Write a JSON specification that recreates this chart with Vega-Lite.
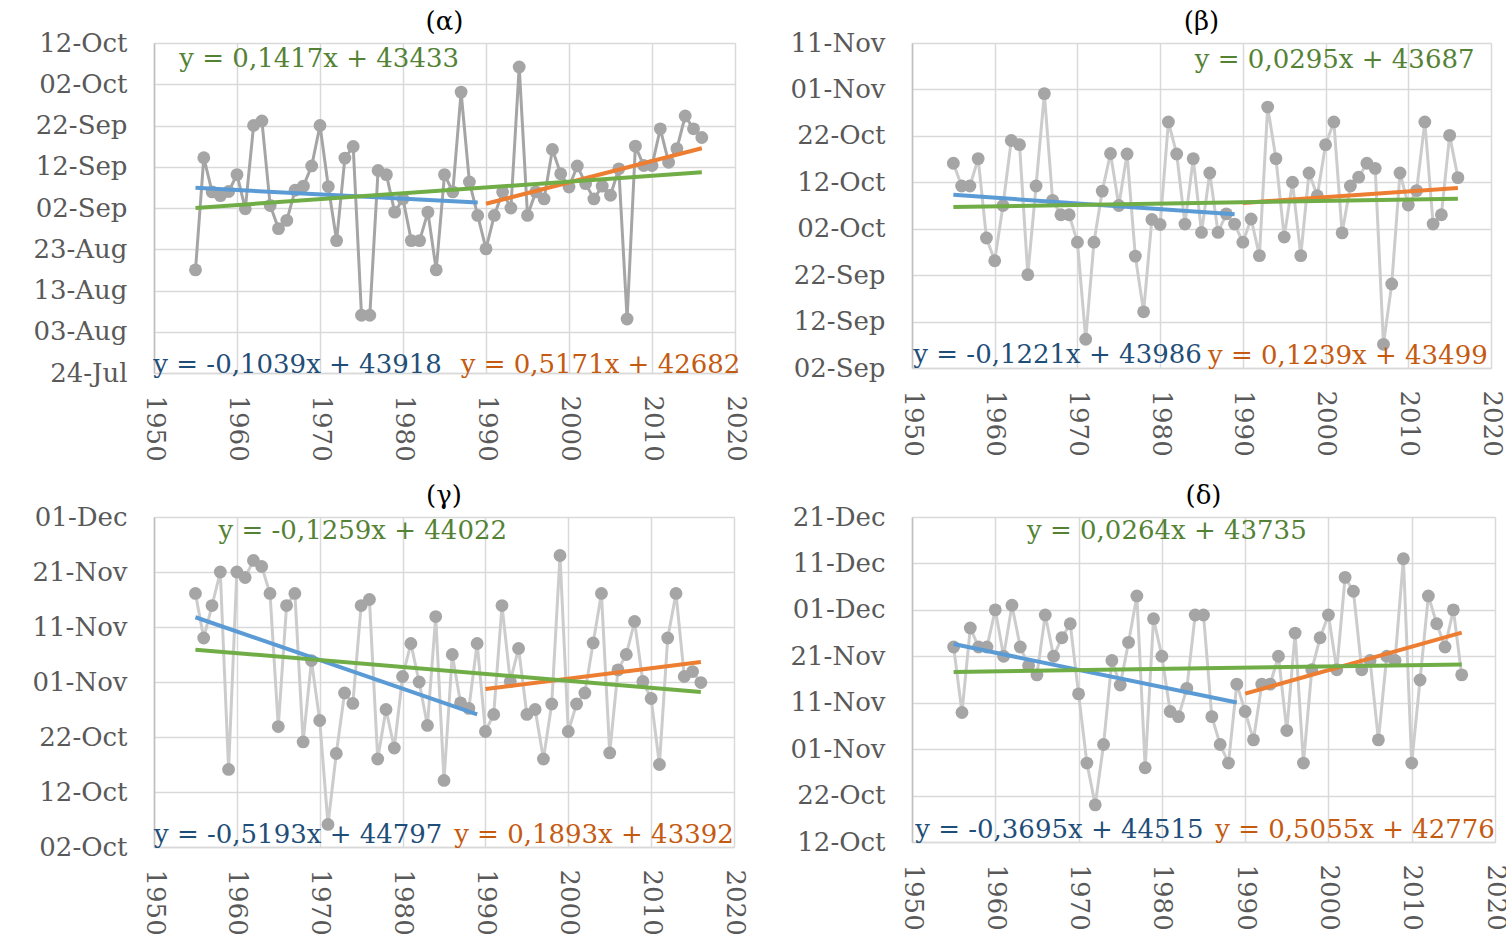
{
  "$schema": "https://vega.github.io/schema/vega-lite/v6.json",
  "background": "white",
  "padding": {"left": 32, "top": 9, "right": 5, "bottom": 5},
  "datasets": {
    "alpha": [
      {"year":1955,"date":43695.0},{"year":1956,"date":43722.2},{"year":1957,"date":43713.9},{"year":1958,"date":43713.0},{"year":1959,"date":43714.0},
      {"year":1960,"date":43718.1},{"year":1961,"date":43709.8},{"year":1962,"date":43730.0},{"year":1963,"date":43731.1},{"year":1964,"date":43710.6},
      {"year":1965,"date":43705.0},{"year":1966,"date":43707.0},{"year":1967,"date":43714.3},{"year":1968,"date":43715.3},{"year":1969,"date":43720.2},
      {"year":1970,"date":43730.0},{"year":1971,"date":43715.2},{"year":1972,"date":43702.1},{"year":1973,"date":43722.1},{"year":1974,"date":43724.9},
      {"year":1975,"date":43684.0},{"year":1976,"date":43684.0},{"year":1977,"date":43719.1},{"year":1978,"date":43718.1},{"year":1979,"date":43709.0},
      {"year":1980,"date":43712.2},{"year":1981,"date":43702.1},{"year":1982,"date":43702.1},{"year":1983,"date":43709.0},{"year":1984,"date":43695.0},
      {"year":1985,"date":43718.1},{"year":1986,"date":43713.9},{"year":1987,"date":43738.1},{"year":1988,"date":43716.3},{"year":1989,"date":43708.2},
      {"year":1990,"date":43700.1},{"year":1991,"date":43708.2},{"year":1992,"date":43713.9},{"year":1993,"date":43710.0},{"year":1994,"date":43744.2},
      {"year":1995,"date":43708.2},{"year":1996,"date":43713.9},{"year":1997,"date":43712.2},{"year":1998,"date":43724.2},{"year":1999,"date":43718.3},
      {"year":2000,"date":43715.1},{"year":2001,"date":43720.2},{"year":2002,"date":43715.9},{"year":2003,"date":43712.2},{"year":2004,"date":43715.3},
      {"year":2005,"date":43713.1},{"year":2006,"date":43719.5},{"year":2007,"date":43683.1},{"year":2008,"date":43725.0},{"year":2009,"date":43720.3},
      {"year":2010,"date":43720.3},{"year":2011,"date":43729.2},{"year":2012,"date":43721.1},{"year":2013,"date":43724.4},{"year":2014,"date":43732.3},
      {"year":2015,"date":43729.2},{"year":2016,"date":43727.1}
    ],
    "alpha_trend": [
      {"period":"1955–1989","year":1955,"date":43714.88},{"period":"1955–1989","year":1989,"date":43711.34},
      {"period":"1990–2016","year":1990,"date":43711.03},{"period":"1990–2016","year":2016,"date":43724.47},
      {"period":"1955–2016","year":1955,"date":43710.02},{"period":"1955–2016","year":2016,"date":43718.67}
    ],
    "beta": [
      {"year":1955,"date":43754.1},{"year":1956,"date":43749.2},{"year":1957,"date":43749.2},{"year":1958,"date":43755.1},{"year":1959,"date":43738.0},
      {"year":1960,"date":43733.1},{"year":1961,"date":43745.0},{"year":1962,"date":43759.0},{"year":1963,"date":43758.1},{"year":1964,"date":43730.1},
      {"year":1965,"date":43749.2},{"year":1966,"date":43769.1},{"year":1967,"date":43746.1},{"year":1968,"date":43743.0},{"year":1969,"date":43743.0},
      {"year":1970,"date":43737.1},{"year":1971,"date":43716.2},{"year":1972,"date":43737.1},{"year":1973,"date":43748.1},{"year":1974,"date":43756.2},
      {"year":1975,"date":43745.0},{"year":1976,"date":43756.1},{"year":1977,"date":43734.1},{"year":1978,"date":43722.1},{"year":1979,"date":43742.0},
      {"year":1980,"date":43740.9},{"year":1981,"date":43763.0},{"year":1982,"date":43756.1},{"year":1983,"date":43741.0},{"year":1984,"date":43755.1},
      {"year":1985,"date":43739.2},{"year":1986,"date":43752.0},{"year":1987,"date":43739.2},{"year":1988,"date":43743.2},{"year":1989,"date":43741.0},
      {"year":1990,"date":43737.1},{"year":1991,"date":43742.1},{"year":1992,"date":43734.2},{"year":1993,"date":43766.2},{"year":1994,"date":43755.1},
      {"year":1995,"date":43738.2},{"year":1996,"date":43750.0},{"year":1997,"date":43734.2},{"year":1998,"date":43752.0},{"year":1999,"date":43747.1},
      {"year":2000,"date":43758.1},{"year":2001,"date":43763.0},{"year":2002,"date":43739.1},{"year":2003,"date":43749.2},{"year":2004,"date":43751.1},
      {"year":2005,"date":43754.1},{"year":2006,"date":43753.0},{"year":2007,"date":43715.1},{"year":2008,"date":43728.1},{"year":2009,"date":43752.0},
      {"year":2010,"date":43745.1},{"year":2011,"date":43748.2},{"year":2012,"date":43763.0},{"year":2013,"date":43741.0},{"year":2014,"date":43743.0},
      {"year":2015,"date":43760.1},{"year":2016,"date":43751.0}
    ],
    "beta_trend": [
      {"period":"1955–1989","year":1955,"date":43747.29},{"period":"1955–1989","year":1989,"date":43743.14},
      {"period":"1990–2016","year":1990,"date":43745.56},{"period":"1990–2016","year":2016,"date":43748.78},
      {"period":"1955–2016","year":1955,"date":43744.67},{"period":"1955–2016","year":2016,"date":43746.47}
    ],
    "gamma": [
      {"year":1955,"date":43786.1},{"year":1956,"date":43778.0},{"year":1957,"date":43783.9},{"year":1958,"date":43790.0},{"year":1959,"date":43754.1},
      {"year":1960,"date":43790.0},{"year":1961,"date":43789.0},{"year":1962,"date":43792.1},{"year":1963,"date":43791.0},{"year":1964,"date":43786.1},
      {"year":1965,"date":43761.9},{"year":1966,"date":43783.9},{"year":1967,"date":43786.1},{"year":1968,"date":43759.1},{"year":1969,"date":43773.9},
      {"year":1970,"date":43763.0},{"year":1971,"date":43744.1},{"year":1972,"date":43757.0},{"year":1973,"date":43768.0},{"year":1974,"date":43766.1},
      {"year":1975,"date":43783.9},{"year":1976,"date":43785.0},{"year":1977,"date":43756.0},{"year":1978,"date":43765.0},{"year":1979,"date":43758.0},
      {"year":1980,"date":43771.0},{"year":1981,"date":43777.0},{"year":1982,"date":43770.0},{"year":1983,"date":43762.1},{"year":1984,"date":43781.9},
      {"year":1985,"date":43752.1},{"year":1986,"date":43775.0},{"year":1987,"date":43766.2},{"year":1988,"date":43765.2},{"year":1989,"date":43777.0},
      {"year":1990,"date":43761.0},{"year":1991,"date":43764.1},{"year":1992,"date":43783.9},{"year":1993,"date":43770.1},{"year":1994,"date":43776.1},
      {"year":1995,"date":43764.1},{"year":1996,"date":43765.0},{"year":1997,"date":43756.0},{"year":1998,"date":43766.0},{"year":1999,"date":43793.0},
      {"year":2000,"date":43761.0},{"year":2001,"date":43766.0},{"year":2002,"date":43768.0},{"year":2003,"date":43777.1},{"year":2004,"date":43786.1},
      {"year":2005,"date":43757.1},{"year":2006,"date":43772.2},{"year":2007,"date":43775.0},{"year":2008,"date":43781.0},{"year":2009,"date":43770.1},
      {"year":2010,"date":43767.0},{"year":2011,"date":43755.0},{"year":2012,"date":43778.0},{"year":2013,"date":43786.1},{"year":2014,"date":43771.0},
      {"year":2015,"date":43771.9},{"year":2016,"date":43769.9}
    ],
    "gamma_trend": [
      {"period":"1955–1989","year":1955,"date":43781.77},{"period":"1955–1989","year":1989,"date":43764.11},
      {"period":"1990–2016","year":1990,"date":43768.71},{"period":"1990–2016","year":2016,"date":43773.63},
      {"period":"1955–2016","year":1955,"date":43775.87},{"period":"1955–2016","year":2016,"date":43768.19}
    ],
    "delta": [
      {"year":1955,"date":43792.0},{"year":1956,"date":43777.9},{"year":1957,"date":43796.1},{"year":1958,"date":43792.0},{"year":1959,"date":43792.0},
      {"year":1960,"date":43800.0},{"year":1961,"date":43790.0},{"year":1962,"date":43801.0},{"year":1963,"date":43792.0},{"year":1964,"date":43788.0},
      {"year":1965,"date":43786.0},{"year":1966,"date":43798.9},{"year":1967,"date":43790.0},{"year":1968,"date":43794.0},{"year":1969,"date":43797.0},
      {"year":1970,"date":43781.9},{"year":1971,"date":43767.0},{"year":1972,"date":43758.0},{"year":1973,"date":43771.0},{"year":1974,"date":43789.1},
      {"year":1975,"date":43783.8},{"year":1976,"date":43793.0},{"year":1977,"date":43803.0},{"year":1978,"date":43766.0},{"year":1979,"date":43798.1},
      {"year":1980,"date":43790.0},{"year":1981,"date":43778.1},{"year":1982,"date":43777.0},{"year":1983,"date":43783.1},{"year":1984,"date":43798.9},
      {"year":1985,"date":43798.9},{"year":1986,"date":43777.0},{"year":1987,"date":43771.0},{"year":1988,"date":43767.0},{"year":1989,"date":43784.0},
      {"year":1990,"date":43778.1},{"year":1991,"date":43772.0},{"year":1992,"date":43784.0},{"year":1993,"date":43784.0},{"year":1994,"date":43790.0},
      {"year":1995,"date":43774.0},{"year":1996,"date":43795.0},{"year":1997,"date":43767.0},{"year":1998,"date":43787.1},{"year":1999,"date":43794.0},
      {"year":2000,"date":43798.9},{"year":2001,"date":43787.1},{"year":2002,"date":43807.0},{"year":2003,"date":43804.0},{"year":2004,"date":43787.1},
      {"year":2005,"date":43789.1},{"year":2006,"date":43772.0},{"year":2007,"date":43790.0},{"year":2008,"date":43789.1},{"year":2009,"date":43811.0},
      {"year":2010,"date":43767.0},{"year":2011,"date":43784.9},{"year":2012,"date":43803.0},{"year":2013,"date":43797.0},{"year":2014,"date":43792.0},
      {"year":2015,"date":43800.0},{"year":2016,"date":43786.0}
    ],
    "delta_trend": [
      {"period":"1955–1989","year":1955,"date":43792.63},{"period":"1955–1989","year":1989,"date":43780.06},
      {"period":"1990–2016","year":1990,"date":43781.95},{"period":"1990–2016","year":2016,"date":43795.09},
      {"period":"1955–2016","year":1955,"date":43786.61},{"period":"1955–2016","year":2016,"date":43788.22}
    ]
  },
  "columns": 2,
  "bounds": "flush",
  "spacing": {"row": 144, "column": 177},
  "concat": [
    {
      "title": "(α)",
      "width": 581,
      "height": 330,
      "resolve": {"scale": {"x": "shared", "y": "shared"}},
      "layer": [
        {"data": {"name": "alpha"}, "mark": {"type": "line", "color": "#a5a5a5", "strokeWidth": 3},
         "encoding": {
           "x": {"field": "year", "type": "quantitative", "scale": {"domain": [1950, 2020], "nice": false, "zero": false},
                 "axis": {"values": [1950, 1960, 1970, 1980, 1990, 2000, 2010, 2020], "format": "d", "labelAngle": 90}},
           "y": {"field": "date", "type": "quantitative", "scale": {"domain": [43670, 43750], "nice": false, "zero": false},
                 "axis": {"values": [43670, 43680, 43690, 43700, 43710, 43720, 43730, 43740, 43750],
                          "labelExpr": "timeFormat(datetime(1899, 11, 30 + datum.value), '%d-%b')"}}}},
        {"data": {"name": "alpha"}, "mark": {"type": "circle", "color": "#a5a5a5", "opacity": 1, "size": 165},
         "encoding": {"x": {"field": "year", "type": "quantitative"}, "y": {"field": "date", "type": "quantitative"}}},
        {"data": {"name": "alpha_trend"}, "mark": {"type": "line", "strokeWidth": 4},
         "encoding": {"x": {"field": "year", "type": "quantitative"}, "y": {"field": "date", "type": "quantitative"},
                      "color": {"field": "period", "type": "nominal", "legend": null,
                                "scale": {"domain": ["1955–1989", "1990–2016", "1955–2016"], "range": ["#5b9bd5", "#ed7d31", "#70ad47"]}}}},
        {"data": {"values": [{"label": "y = 0,1417x + 43433"}]}, "mark": {"type": "text", "color": "#548235"},
         "encoding": {"x": {"datum": 1969.9, "type": "quantitative"}, "y": {"datum": 43746.1, "type": "quantitative"}, "text": {"field": "label"}}},
        {"data": {"values": [{"label": "y = -0,1039x + 43918"}]}, "mark": {"type": "text", "color": "#1f4e79"},
         "encoding": {"x": {"datum": 1967.3, "type": "quantitative"}, "y": {"datum": 43671.9, "type": "quantitative"}, "text": {"field": "label"}}},
        {"data": {"values": [{"label": "y = 0,5171x + 42682"}]}, "mark": {"type": "text", "color": "#c55a11"},
         "encoding": {"x": {"datum": 2003.8, "type": "quantitative"}, "y": {"datum": 43671.9, "type": "quantitative"}, "text": {"field": "label"}}}
      ]
    },
    {
      "title": "(β)",
      "width": 579,
      "height": 325,
      "layer": [
        {"data": {"name": "beta"}, "mark": {"type": "line", "color": "#cccccc", "strokeWidth": 3},
         "encoding": {
           "x": {"field": "year", "type": "quantitative", "scale": {"domain": [1950, 2020], "nice": false, "zero": false},
                 "axis": {"values": [1950, 1960, 1970, 1980, 1990, 2000, 2010, 2020], "format": "d", "labelAngle": 90}},
           "y": {"field": "date", "type": "quantitative", "scale": {"domain": [43710, 43780], "nice": false, "zero": false},
                 "axis": {"values": [43710, 43720, 43730, 43740, 43750, 43760, 43770, 43780],
                          "labelExpr": "timeFormat(datetime(1899, 11, 30 + datum.value), '%d-%b')"}}}},
        {"data": {"name": "beta"}, "mark": {"type": "circle", "color": "#a5a5a5", "opacity": 1, "size": 165},
         "encoding": {"x": {"field": "year", "type": "quantitative"}, "y": {"field": "date", "type": "quantitative"}}},
        {"data": {"name": "beta_trend"}, "mark": {"type": "line", "strokeWidth": 4},
         "encoding": {"x": {"field": "year", "type": "quantitative"}, "y": {"field": "date", "type": "quantitative"},
                      "color": {"field": "period", "type": "nominal", "legend": null,
                                "scale": {"domain": ["1955–1989", "1990–2016", "1955–2016"], "range": ["#5b9bd5", "#ed7d31", "#70ad47"]}}}},
        {"data": {"values": [{"label": "y = 0,0295x + 43687"}]}, "mark": {"type": "text", "color": "#548235"},
         "encoding": {"x": {"datum": 2001.1, "type": "quantitative"}, "y": {"datum": 43776.3, "type": "quantitative"}, "text": {"field": "label"}}},
        {"data": {"values": [{"label": "y = -0,1221x + 43986"}]}, "mark": {"type": "text", "color": "#1f4e79"},
         "encoding": {"x": {"datum": 1967.6, "type": "quantitative"}, "y": {"datum": 43712.8, "type": "quantitative"}, "text": {"field": "label"}}},
        {"data": {"values": [{"label": "y = 0,1239x + 43499"}]}, "mark": {"type": "text", "color": "#c55a11"},
         "encoding": {"x": {"datum": 2002.7, "type": "quantitative"}, "y": {"datum": 43712.5, "type": "quantitative"}, "text": {"field": "label"}}}
      ]
    },
    {
      "title": "(γ)",
      "width": 580,
      "height": 330,
      "layer": [
        {"data": {"name": "gamma"}, "mark": {"type": "line", "color": "#cccccc", "strokeWidth": 3},
         "encoding": {
           "x": {"field": "year", "type": "quantitative", "scale": {"domain": [1950, 2020], "nice": false, "zero": false},
                 "axis": {"values": [1950, 1960, 1970, 1980, 1990, 2000, 2010, 2020], "format": "d", "labelAngle": 90}},
           "y": {"field": "date", "type": "quantitative", "scale": {"domain": [43740, 43800], "nice": false, "zero": false},
                 "axis": {"values": [43740, 43750, 43760, 43770, 43780, 43790, 43800],
                          "labelExpr": "timeFormat(datetime(1899, 11, 30 + datum.value), '%d-%b')"}}}},
        {"data": {"name": "gamma"}, "mark": {"type": "circle", "color": "#a5a5a5", "opacity": 1, "size": 165},
         "encoding": {"x": {"field": "year", "type": "quantitative"}, "y": {"field": "date", "type": "quantitative"}}},
        {"data": {"name": "gamma_trend"}, "mark": {"type": "line", "strokeWidth": 4},
         "encoding": {"x": {"field": "year", "type": "quantitative"}, "y": {"field": "date", "type": "quantitative"},
                      "color": {"field": "period", "type": "nominal", "legend": null,
                                "scale": {"domain": ["1955–1989", "1990–2016", "1955–2016"], "range": ["#5b9bd5", "#ed7d31", "#70ad47"]}}}},
        {"data": {"values": [{"label": "y = -0,1259x + 44022"}]}, "mark": {"type": "text", "color": "#548235"},
         "encoding": {"x": {"datum": 1975.2, "type": "quantitative"}, "y": {"datum": 43797.5, "type": "quantitative"}, "text": {"field": "label"}}},
        {"data": {"values": [{"label": "y = -0,5193x + 44797"}]}, "mark": {"type": "text", "color": "#1f4e79"},
         "encoding": {"x": {"datum": 1967.4, "type": "quantitative"}, "y": {"datum": 43742.2, "type": "quantitative"}, "text": {"field": "label"}}},
        {"data": {"values": [{"label": "y = 0,1893x + 43392"}]}, "mark": {"type": "text", "color": "#c55a11"},
         "encoding": {"x": {"datum": 2003.1, "type": "quantitative"}, "y": {"datum": 43742.2, "type": "quantitative"}, "text": {"field": "label"}}}
      ]
    },
    {
      "title": "(δ)",
      "width": 583,
      "height": 325,
      "layer": [
        {"data": {"name": "delta"}, "mark": {"type": "line", "color": "#cccccc", "strokeWidth": 3},
         "encoding": {
           "x": {"field": "year", "type": "quantitative", "scale": {"domain": [1950, 2020], "nice": false, "zero": false},
                 "axis": {"values": [1950, 1960, 1970, 1980, 1990, 2000, 2010, 2020], "format": "d", "labelAngle": 90}},
           "y": {"field": "date", "type": "quantitative", "scale": {"domain": [43750, 43820], "nice": false, "zero": false},
                 "axis": {"values": [43750, 43760, 43770, 43780, 43790, 43800, 43810, 43820],
                          "labelExpr": "timeFormat(datetime(1899, 11, 30 + datum.value), '%d-%b')"}}}},
        {"data": {"name": "delta"}, "mark": {"type": "circle", "color": "#a5a5a5", "opacity": 1, "size": 165},
         "encoding": {"x": {"field": "year", "type": "quantitative"}, "y": {"field": "date", "type": "quantitative"}}},
        {"data": {"name": "delta_trend"}, "mark": {"type": "line", "strokeWidth": 4},
         "encoding": {"x": {"field": "year", "type": "quantitative"}, "y": {"field": "date", "type": "quantitative"},
                      "color": {"field": "period", "type": "nominal", "legend": null,
                                "scale": {"domain": ["1955–1989", "1990–2016", "1955–2016"], "range": ["#5b9bd5", "#ed7d31", "#70ad47"]}}}},
        {"data": {"values": [{"label": "y = 0,0264x + 43735"}]}, "mark": {"type": "text", "color": "#548235"},
         "encoding": {"x": {"datum": 1980.6, "type": "quantitative"}, "y": {"datum": 43817.0, "type": "quantitative"}, "text": {"field": "label"}}},
        {"data": {"values": [{"label": "y = -0,3695x + 44515"}]}, "mark": {"type": "text", "color": "#1f4e79"},
         "encoding": {"x": {"datum": 1967.7, "type": "quantitative"}, "y": {"datum": 43752.6, "type": "quantitative"}, "text": {"field": "label"}}},
        {"data": {"values": [{"label": "y = 0,5055x + 42776"}]}, "mark": {"type": "text", "color": "#c55a11"},
         "encoding": {"x": {"datum": 2003.2, "type": "quantitative"}, "y": {"datum": 43752.6, "type": "quantitative"}, "text": {"field": "label"}}}
      ]
    }
  ],
  "config": {
    "font": "DejaVu Serif",
    "view": {"stroke": null},
    "axis": {
      "labelFont": "DejaVu Serif", "labelFontSize": 26, "labelColor": "#595959",
      "ticks": false, "grid": true, "gridColor": "#d9d9d9", "gridWidth": 1.5,
      "domainColor": "#d9d9d9", "domainWidth": 1.5, "title": null,
      "labelFlush": false, "labelOverlap": false
    },
    "axisY": {"labelPadding": 27, "domainColor": "#bfbfbf"},
    "axisX": {"labelPadding": 22},
    "text": {"font": "DejaVu Serif", "fontSize": 26, "align": "center", "baseline": "middle"},
    "title": {"font": "DejaVu Serif", "fontSize": 26, "fontWeight": "normal", "color": "#000000", "offset": -5}
  }
}
